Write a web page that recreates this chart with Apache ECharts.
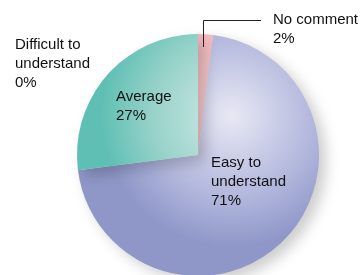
<!DOCTYPE html>
<html>
<head>
<meta charset="utf-8">
<script src="https://cdn.jsdelivr.net/npm/echarts@6/dist/echarts.min.js"></script>
<style>
html,body{margin:0;padding:0;background:#fff;}
#c{width:361px;height:275px;}
</style>
</head>
<body>
<div id="c"></div>
<script>
const categories = ['No comment', 'Easy to\nunderstand', 'Average', 'Difficult to\nunderstand'];
const values = [2, 71, 27, 0];
const sliceColors = [
  ['#fbd6d8', '#f6bcc0', '#f2a9ae'],
  ['#e8e8f4', '#b3b8dd', '#8e97c8'],
  ['#d3ece8', '#97d2c9', '#5fbfb4'],
  ['#dddddd', '#cccccc', '#bbbbbb']
];
const labelTops = [[273, 10], [211, 153], [116, 87], [15, 35]];

function grad(c) {
  return {
    type: 'radial', x: 232, y: 116, r: 160, global: true,
    colorStops: [
      { offset: 0, color: c[0] },
      { offset: 0.5, color: c[1] },
      { offset: 0.82, color: c[2] },
      { offset: 1, color: c[2] }
    ]
  };
}

const chart = echarts.init(document.getElementById('c'), null, { renderer: 'canvas' });
chart.setOption({
  animation: false,
  backgroundColor: '#ffffff',
  graphic: [{
    type: 'polyline',
    z: 100,
    shape: { points: [[203.5, 47], [203.5, 20.5], [261, 20.5]] },
    style: { stroke: '#222', lineWidth: 1, fill: null }
  }],
  series: [{
    type: 'pie',
    center: [198, 155],
    radius: 121,
    startAngle: 90,
    clockwise: true,
    avoidLabelOverlap: false,
    silent: true,
    itemStyle: {
      borderWidth: 0,
      shadowBlur: 14,
      shadowOffsetX: 7,
      shadowOffsetY: 6,
      shadowColor: 'rgba(0,0,0,0.2)'
    },
    label: {
      show: true,
      position: 'outside',
      formatter: p => p.name + '\n' + p.value + '%',
      fontFamily: 'Liberation Sans, Arial, sans-serif',
      fontSize: 15,
      lineHeight: 19,
      color: '#111'
    },
    labelLine: { show: false },
    labelLayout: p => ({
      x: labelTops[p.dataIndex][0],
      y: labelTops[p.dataIndex][1],
      align: 'left',
      verticalAlign: 'top'
    }),
    data: categories.map((name, i) => ({
      name: name,
      value: values[i],
      itemStyle: { color: grad(sliceColors[i]) }
    }))
  }]
});
</script>
</body>
</html>
